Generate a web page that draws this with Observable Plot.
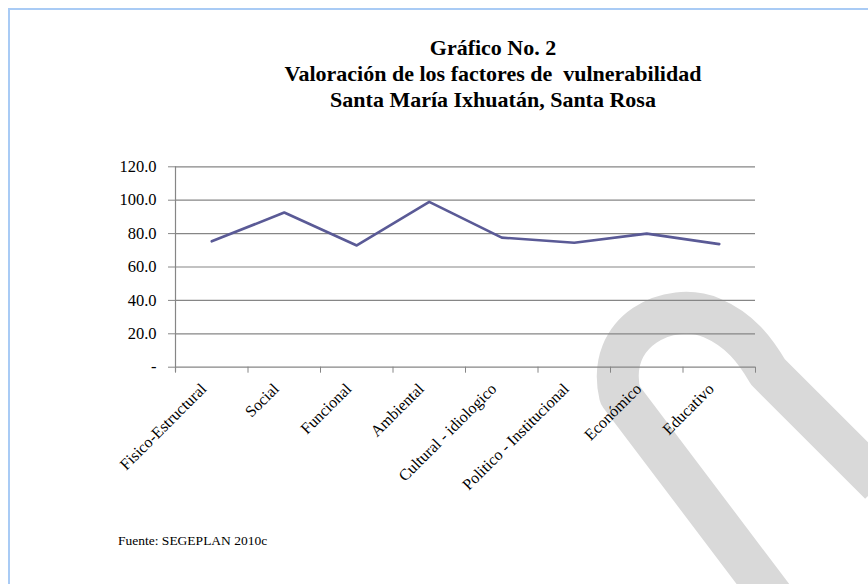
<!DOCTYPE html>
<html><head><meta charset="utf-8">
<script src="https://cdn.jsdelivr.net/npm/d3@7"></script>
<script src="https://cdn.jsdelivr.net/npm/@observablehq/plot@0.6"></script>
<style>
body{margin:0;background:#fff;}
#wrap{position:relative;width:868px;height:584px;overflow:hidden;font-family:"Liberation Serif","Times New Roman",serif;color:#000;}
#frame{position:absolute;left:8px;top:8px;width:900px;height:700px;border-left:2px solid #a9cbf5;border-top:2px solid #a9cbf5;}
#wm{position:absolute;left:0;top:0;}
#title{position:absolute;left:243px;width:500px;top:35px;text-align:center;font-weight:bold;font-size:22px;line-height:26px;}
#caption{position:absolute;left:118px;top:534px;font-size:13.5px;line-height:14px;}
#chart{position:absolute;left:0;top:0;}
</style></head>
<body>
<div id="wrap">
  <div id="frame"></div>
  <svg id="wm" width="868" height="584" aria-hidden="true">
    <g fill="none" stroke="#d9d9d9" stroke-width="42" stroke-linejoin="round">
      <path d="M775,600 L620,395 C605,330 670,300 712,318 C740,330 755,350 768,372 L880,484"/>
    </g>
  </svg>
  <div id="chart"></div>
  <div id="title">Gráfico No. 2<br>Valoración de los factores de&nbsp; vulnerabilidad<br>Santa María Ixhuatán, Santa Rosa</div>
  <div id="caption">Fuente: SEGEPLAN 2010c</div>
</div>
<script>
const categories = ["Fisico-Estructural","Social","Funcional","Ambiental","Cultural - idiologico","Politico - Institucional","Económico","Educativo"];
const values = [75.4, 92.6, 72.9, 99.0, 77.6, 74.5, 80.0, 73.7];
const yTicks = [0, 20, 40, 60, 80, 100, 120];

const data = categories.map((c, i) => ({i, c, v: values[i]}));
const bounds = d3.range(categories.length + 1).map(k => k - 0.5);
const fmt = d => d === 0 ? "-" : d.toFixed(1);

const chart = Plot.plot({
  width: 868,
  height: 584,
  marginTop: 166.3,
  marginBottom: 217.3,
  marginLeft: 175,
  marginRight: 113,
  style: {fontFamily: "'Liberation Serif','Times New Roman',serif", background: "transparent", color: "#000"},
  x: {type: "linear", domain: [-0.5, categories.length - 0.5], axis: null},
  y: {domain: [0, 120], axis: null},
  marks: [
    Plot.ruleY(yTicks, {stroke: "#868686", strokeWidth: 1.2, strokeOpacity: 1}),
    Plot.axisY({ticks: yTicks, tickSize: 7, tickPadding: 12, tickFormat: fmt, fontSize: 16.5, stroke: "#868686", strokeOpacity: 1, fill: "#000", label: null}),
    Plot.ruleX([-0.5], {y1: -3, y2: 120, stroke: "#868686", strokeWidth: 1.2}),
    Plot.axisX({ticks: bounds, tickSize: 6, tickFormat: () => "", stroke: "#868686", strokeOpacity: 1, label: null}),
    Plot.line(data, {x: "i", y: "v", stroke: "#5a5a96", strokeWidth: 2.6}),
    Plot.text(data, {x: "i", y: 0, text: "c", rotate: -45, textAnchor: "end", dx: -8, dy: 19, fontSize: 16, fill: "#000"})
  ]
});
document.getElementById("chart").appendChild(chart);
</script>
</body></html>
